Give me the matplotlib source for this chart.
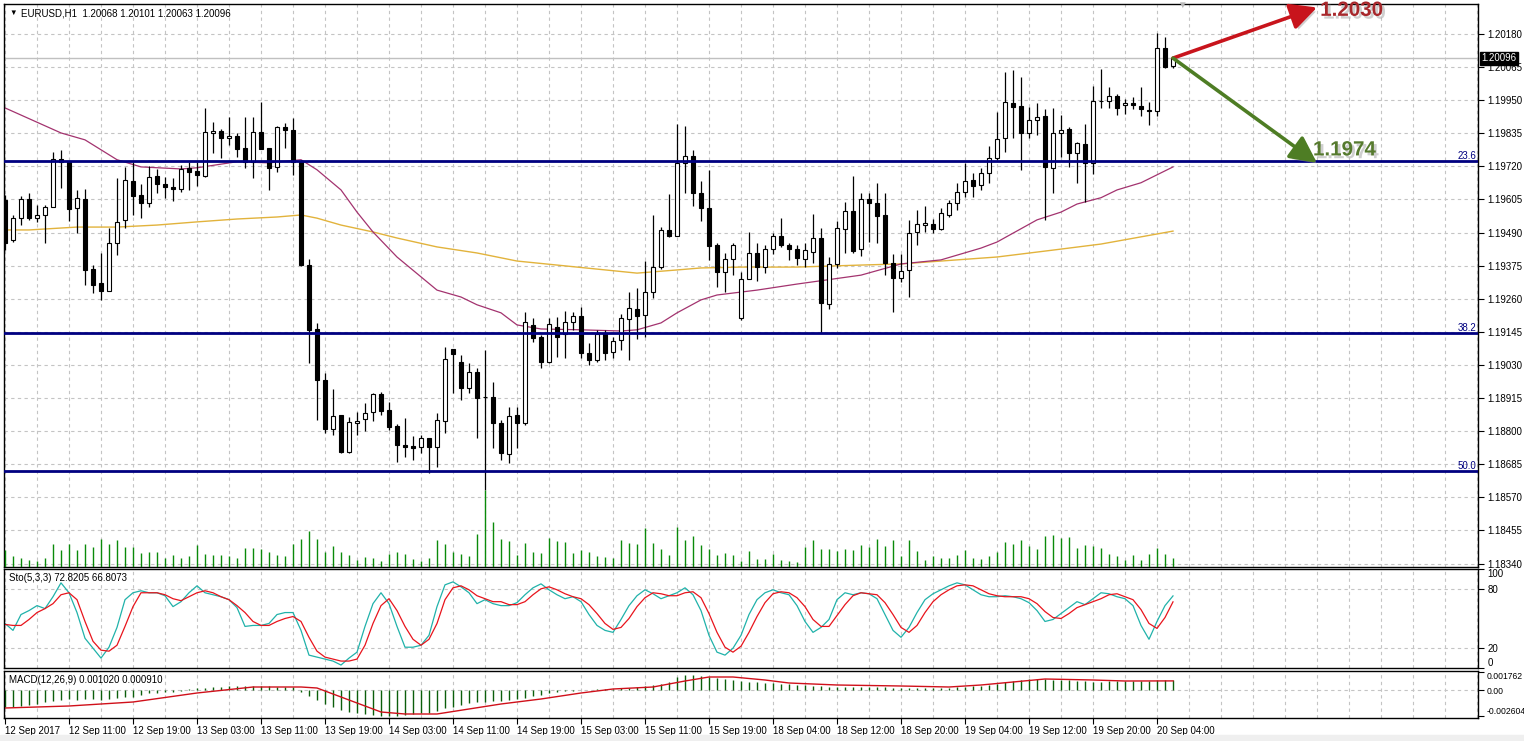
""" EURUSD H1 chart with stochastic and MACD panels """

import matplotlib
matplotlib.use('Agg')
import matplotlib.pyplot as plt
import matplotlib.patheffects as pe
import matplotlib.transforms as mtransforms
import numpy as np

plt.rcParams['font.family'] = ['Liberation Sans', 'DejaVu Sans']

opens = [1.19603, 1.19464, 1.19540, 1.19607, 1.19540, 1.19551, 1.19579, 1.19746, 1.19736, 1.19575,
         1.19607, 1.19363, 1.19315, 1.19287, 1.19454, 1.19534, 1.19670, 1.19621, 1.19593, 1.19687,
         1.19659, 1.19649, 1.19642, 1.19715, 1.19704, 1.19687, 1.19836, 1.19843, 1.19819, 1.19826,
         1.19784, 1.19736, 1.19840, 1.19784, 1.19718, 1.19857, 1.19847, 1.19736, 1.19377, 1.19155,
         1.18978, 1.18807, 1.18856, 1.18727, 1.18828, 1.18842, 1.18866, 1.18929, 1.18873, 1.18818,
         1.18752, 1.18748, 1.18745, 1.18776, 1.18745, 1.18835, 1.19086, 1.19041, 1.18950, 1.19006,
         1.18919, 1.18919, 1.18828, 1.18720, 1.18856, 1.18828, 1.19169, 1.19127, 1.19041, 1.19162,
         1.19138, 1.19180, 1.19201, 1.19072, 1.19048, 1.19138, 1.19075, 1.19117, 1.19190, 1.19225,
         1.19204, 1.19283, 1.19370, 1.19499, 1.19478, 1.19732, 1.19756, 1.19628, 1.19575, 1.19447,
         1.19353, 1.19398, 1.19193, 1.19329, 1.19419, 1.19370, 1.19433, 1.19478, 1.19447, 1.19433,
         1.19398, 1.19422, 1.19471, 1.19242, 1.19381, 1.19502, 1.19565, 1.19433, 1.19607, 1.19593,
         1.19551, 1.19384, 1.19332, 1.19360, 1.19492, 1.19516, 1.19520, 1.19502, 1.19551, 1.19593,
         1.19631, 1.19673, 1.19656, 1.19697, 1.19750, 1.19819, 1.19941, 1.19930, 1.19836, 1.19882,
         1.19895, 1.19715, 1.19836, 1.19850, 1.19767, 1.19798, 1.19732, 1.19948, 1.19948, 1.19964,
         1.19934, 1.19941, 1.19930, 1.19916, 1.19913, 1.20131, 1.20068]
highs = [1.19621, 1.19551, 1.19617, 1.19628, 1.19586, 1.19586, 1.19770, 1.19777, 1.19736, 1.19638,
         1.19642, 1.19377, 1.19419, 1.19506, 1.19680, 1.19718, 1.19736, 1.19659, 1.19722, 1.19711,
         1.19684, 1.19680, 1.19725, 1.19736, 1.19736, 1.19923, 1.19875, 1.19850, 1.19892, 1.19836,
         1.19892, 1.19892, 1.19944, 1.19784, 1.19861, 1.19871, 1.19888, 1.19743, 1.19398, 1.19176,
         1.19002, 1.18947, 1.18856, 1.18849, 1.18866, 1.18898, 1.18932, 1.18936, 1.18901, 1.18825,
         1.18845, 1.18783, 1.18786, 1.18776, 1.18863, 1.19093, 1.19086, 1.19065, 1.19037, 1.19020,
         1.19082, 1.18971, 1.18839, 1.18884, 1.18884, 1.19214, 1.19193, 1.19134, 1.19193, 1.19197,
         1.19218, 1.19214, 1.19232, 1.19107, 1.19152, 1.19152, 1.19127, 1.19207, 1.19283, 1.19297,
         1.19391, 1.19551, 1.19509, 1.19624, 1.19868, 1.19861, 1.19777, 1.19670, 1.19708, 1.19454,
         1.19419, 1.19454, 1.19353, 1.19492, 1.19454, 1.19447, 1.19488, 1.19540, 1.19454, 1.19447,
         1.19454, 1.19554, 1.19506, 1.19405, 1.19530, 1.19596, 1.19687, 1.19628, 1.19628, 1.19663,
         1.19628, 1.19415, 1.19415, 1.19534, 1.19568, 1.19582, 1.19537, 1.19575, 1.19603, 1.19663,
         1.19732, 1.19697, 1.19715, 1.19791, 1.19909, 1.20048, 1.20055, 1.20031, 1.19927, 1.19941,
         1.19920, 1.19923, 1.19899, 1.19857, 1.19805, 1.19868, 1.19999, 1.20058, 1.19996, 1.19971,
         1.19954, 1.19961, 1.19996, 1.19944, 1.20183, 1.20170, 1.20101]
lows = [1.19429, 1.19457, 1.19516, 1.19534, 1.19527, 1.19454, 1.19579, 1.19645, 1.19530, 1.19488,
        1.19308, 1.19280, 1.19256, 1.19287, 1.19412, 1.19506, 1.19551, 1.19540, 1.19579, 1.19628,
        1.19611, 1.19600, 1.19631, 1.19638, 1.19652, 1.19684, 1.19767, 1.19750, 1.19795, 1.19753,
        1.19715, 1.19680, 1.19781, 1.19638, 1.19701, 1.19784, 1.19690, 1.19373, 1.19037, 1.18839,
        1.18793, 1.18786, 1.18724, 1.18724, 1.18786, 1.18800, 1.18835, 1.18856, 1.18804, 1.18693,
        1.18710, 1.18700, 1.18724, 1.18654, 1.18675, 1.18793, 1.18932, 1.18908, 1.18932, 1.18776,
        1.18595, 1.18741, 1.18700, 1.18689, 1.18741, 1.18821, 1.19110, 1.19020, 1.19037, 1.19058,
        1.19055, 1.19152, 1.19055, 1.19030, 1.19041, 1.19048, 1.19055, 1.19082, 1.19048, 1.19120,
        1.19127, 1.19263, 1.19363, 1.19475, 1.19478, 1.19628, 1.19582, 1.19530, 1.19395, 1.19301,
        1.19283, 1.19342, 1.19187, 1.19329, 1.19322, 1.19349, 1.19415, 1.19440, 1.19395, 1.19377,
        1.19370, 1.19384, 1.19141, 1.19225, 1.19367, 1.19419, 1.19419, 1.19408, 1.19457, 1.19454,
        1.19342, 1.19214, 1.19318, 1.19266, 1.19447, 1.19492, 1.19488, 1.19499, 1.19544, 1.19568,
        1.19614, 1.19614, 1.19638, 1.19663, 1.19743, 1.19770, 1.19819, 1.19708, 1.19819, 1.19830,
        1.19534, 1.19628, 1.19753, 1.19718, 1.19663, 1.19596, 1.19694, 1.19923, 1.19923, 1.19899,
        1.19902, 1.19920, 1.19895, 1.19864, 1.19895, 1.20062, 1.20063]
closes = [1.19454, 1.19540, 1.19607, 1.19540, 1.19551, 1.19579, 1.19746, 1.19736, 1.19572, 1.19611,
          1.19360, 1.19308, 1.19287, 1.19454, 1.19527, 1.19673, 1.19617, 1.19593, 1.19684, 1.19659,
          1.19649, 1.19642, 1.19711, 1.19701, 1.19690, 1.19840, 1.19843, 1.19819, 1.19826, 1.19781,
          1.19736, 1.19840, 1.19781, 1.19715, 1.19857, 1.19847, 1.19736, 1.19377, 1.19152, 1.18978,
          1.18807, 1.18852, 1.18727, 1.18832, 1.18835, 1.18863, 1.18929, 1.18870, 1.18814, 1.18752,
          1.18745, 1.18741, 1.18776, 1.18745, 1.18839, 1.19051, 1.19068, 1.18950, 1.19006, 1.18916,
          1.18917, 1.18828, 1.18724, 1.18852, 1.18828, 1.19180, 1.19124, 1.19041, 1.19173, 1.19127,
          1.19180, 1.19201, 1.19072, 1.19048, 1.19138, 1.19072, 1.19114, 1.19193, 1.19228, 1.19201,
          1.19283, 1.19370, 1.19499, 1.19478, 1.19732, 1.19756, 1.19628, 1.19575, 1.19443, 1.19353,
          1.19398, 1.19447, 1.19329, 1.19419, 1.19370, 1.19433, 1.19478, 1.19447, 1.19433, 1.19402,
          1.19429, 1.19471, 1.19246, 1.19381, 1.19506, 1.19565, 1.19426, 1.19607, 1.19593, 1.19547,
          1.19384, 1.19332, 1.19356, 1.19488, 1.19520, 1.19523, 1.19502, 1.19558, 1.19593, 1.19631,
          1.19670, 1.19652, 1.19697, 1.19750, 1.19816, 1.19944, 1.19927, 1.19836, 1.19882, 1.19892,
          1.19718, 1.19836, 1.19847, 1.19767, 1.19802, 1.19732, 1.19948, 1.19946, 1.19964, 1.19923,
          1.19941, 1.19934, 1.19920, 1.19913, 1.20131, 1.20065, 1.20096]

volumes = [17, 11, 9, 7, 6, 9, 23, 17, 23, 17, 23, 20, 28, 23, 27, 20, 20, 14, 15, 15,
           9, 12, 9, 11, 22, 13, 12, 12, 11, 9, 19, 19, 18, 15, 12, 11, 23, 28, 36, 28,
           15, 21, 15, 12, 7, 10, 9, 6, 13, 15, 13, 8, 6, 9, 27, 23, 15, 13, 11, 33,
           77, 45, 28, 26, 12, 24, 15, 14, 29, 26, 25, 14, 17, 15, 11, 10, 9, 27, 24, 23,
           39, 24, 18, 12, 40, 27, 31, 22, 18, 12, 14, 12, 6, 16, 8, 8, 13, 7, 6, 5,
           20, 27, 18, 18, 16, 18, 17, 22, 20, 28, 21, 27, 11, 27, 16, 7, 11, 9, 9, 12,
           17, 9, 8, 11, 15, 25, 23, 27, 21, 18, 31, 32, 29, 30, 19, 22, 21, 19, 13, 11,
           7, 12, 7, 13, 19, 13, 9]

ma_fast_idx = [0, 7, 10, 14, 17, 22, 24, 29, 33, 37, 39, 42, 44, 46, 49, 52, 54, 57, 59, 62,
               64, 67, 72, 77, 79, 82, 84, 87, 89, 94, 99, 107, 112, 117, 122, 124, 129, 132,
               134, 137, 139, 142, 146]
ma_fast = [1.19923, 1.19836, 1.19812, 1.19743, 1.19718, 1.19711, 1.19715, 1.19736, 1.19732,
           1.19743, 1.19708, 1.19638, 1.19561, 1.19492, 1.19405, 1.19336, 1.19290, 1.19266,
           1.19239, 1.19211, 1.19169, 1.19155, 1.19152, 1.19148, 1.19152, 1.19176, 1.19211,
           1.19256, 1.19273, 1.19290, 1.19311, 1.19342, 1.19381, 1.19395, 1.19436, 1.19457,
           1.19534, 1.19561, 1.19589, 1.19611, 1.19638, 1.19663, 1.19718]
ma_slow_idx = [0, 3, 9, 14, 19, 24, 29, 34, 37, 39, 42, 46, 49, 54, 59, 64, 69, 74, 79, 84,
               87, 92, 99, 107, 112, 117, 124, 131, 137, 142, 146]
ma_slow = [1.19499, 1.19499, 1.19509, 1.19509, 1.19516, 1.19527, 1.19537, 1.19544, 1.19551,
           1.19540, 1.19516, 1.19492, 1.19471, 1.19440, 1.19419, 1.19391, 1.19377, 1.19363,
           1.19349, 1.19360, 1.19367, 1.19370, 1.19370, 1.19377, 1.19381, 1.19391, 1.19405,
           1.19429, 1.19450, 1.19475, 1.19495]

fib_levels = [1.19738, 1.19140, 1.18662]
fib_names = ['23.6', '38.2', '50.0']
last_price = 1.20096

price_ticks = [1.20180, 1.20065, 1.19950, 1.19835, 1.19720, 1.19605, 1.19490, 1.19375,
               1.19260, 1.19145, 1.19030, 1.18915, 1.18800, 1.18685, 1.18570, 1.18455, 1.18340]

sto_k = [45, 38, 54, 58, 63, 60, 72, 86, 76, 56, 30, 20, 10, 21, 41, 69, 76, 78, 76, 76,
         73, 62, 67, 76, 83, 76, 74, 72, 69, 61, 42, 43, 43, 45, 54, 56, 56, 38, 13, 11,
         9, 7, 3, 10, 16, 42, 65, 76, 65, 42, 21, 21, 23, 33, 62, 84, 87, 82, 76, 65,
         69, 65, 63, 63, 66, 74, 81, 85, 79, 74, 70, 72, 67, 54, 43, 38, 36, 49, 63, 73,
         79, 75, 70, 73, 76, 81, 74, 58, 33, 16, 13, 20, 33, 54, 69, 76, 79, 76, 74, 63,
         47, 36, 41, 49, 69, 76, 74, 76, 75, 70, 54, 38, 31, 41, 56, 69, 75, 79, 83, 86,
         84, 79, 74, 72, 72, 73, 72, 70, 66, 58, 47, 49, 55, 61, 67, 64, 70, 76, 75, 72,
         70, 63, 43, 29, 47, 63, 72.82]
sto_d = [44, 43, 43, 49, 56, 60, 65, 74, 76, 69, 47, 27, 18, 17, 23, 42, 62, 76, 76, 76,
         74, 70, 68, 72, 76, 78, 76, 72, 69, 63, 56, 47, 43, 43, 47, 50, 52, 47, 31, 17,
         11, 9, 7, 7, 9, 23, 45, 63, 70, 58, 42, 29, 23, 29, 45, 69, 81, 83, 79, 73,
         70, 67, 67, 64, 64, 67, 74, 80, 82, 79, 75, 72, 70, 64, 55, 45, 39, 41, 50, 62,
         71, 76, 75, 73, 73, 76, 77, 71, 55, 36, 21, 16, 22, 36, 52, 66, 75, 77, 76, 71,
         62, 49, 42, 42, 53, 64, 73, 76, 75, 74, 66, 54, 41, 36, 43, 56, 67, 74, 79, 83,
         84, 83, 79, 75, 73, 72, 72, 72, 70, 65, 57, 51, 50, 55, 61, 64, 67, 70, 74, 75,
         72, 69, 59, 45, 40, 51, 66.81]
sto_levels = [20, 80]

macd_main = [-0.00167, -0.00167, -0.0016, -0.0015, -0.0014, -0.0012, -0.0011, -0.0010, -0.0009, -0.0010,
             -0.0009, -0.0009, -0.0010, -0.0009, -0.0008, -0.0007, -0.0007, -0.0005, -0.0003, -0.0003,
             -0.0002, -0.0002, -0.0001, 0.0001, 0.0002, 0.0002, 0.0003, 0.0003, 0.0004, 0.0004,
             0.0004, 0.0004, 0.0004, 0.0004, 0.0003, 0.0003, 0.0003, -0.0002, -0.0006, -0.0010,
             -0.0014, -0.0017, -0.0020, -0.0022, -0.0023, -0.0024, -0.0025, -0.0026, -0.0026, -0.0026,
             -0.0025, -0.0024, -0.0023, -0.0023, -0.0021, -0.0018, -0.0017, -0.0015, -0.0013, -0.0012,
             -0.0012, -0.0011, -0.0011, -0.0010, -0.0009, -0.0008, -0.0006, -0.0005, -0.0003, -0.0002,
             -0.0001, -0.0001, 0.0, 0.00005, 0.0001, 0.0001, 0.00015, 0.0002, 0.00025, 0.0003,
             0.0004, 0.0005, 0.0006, 0.0008, 0.0013, 0.0015, 0.0015, 0.0014, 0.0013, 0.0012,
             0.0011, 0.0010, 0.0009, 0.0008, 0.0008, 0.0007, 0.0007, 0.0006, 0.0006, 0.0005,
             0.0005, 0.0004, 0.0004, 0.0003, 0.0003, 0.0003, 0.0003, 0.0003, 0.0003, 0.0003,
             0.0003, 0.0002, 0.0002, 0.0002, 0.0002, 0.0002, 0.0002, 0.0002, 0.0002, 0.0003,
             0.0003, 0.0004, 0.0004, 0.0005, 0.0006, 0.0008, 0.0009, 0.0010, 0.0011, 0.0011,
             0.0011, 0.0010, 0.0010, 0.0010, 0.0009, 0.0009, 0.0008, 0.0008, 0.0009, 0.0009,
             0.0009, 0.0009, 0.0009, 0.0009, 0.0010, 0.0010, 0.00102]
macd_signal_idx = [0, 8, 16, 24, 31, 37, 39, 43, 47, 50, 54, 58, 62, 67, 72, 76, 81, 85, 88,
                   91, 95, 98, 104, 112, 118, 122, 126, 130, 136, 140, 146]
macd_signal = [-0.0018, -0.0016, -0.0012, -0.0003, 0.0003, 0.0003, 0.0002, -0.0010, -0.0022,
               -0.0024, -0.0024, -0.0019, -0.0014, -0.0009, -0.0003, 0.0001, 0.0003, 0.0009,
               0.0013, 0.0013, 0.0010, 0.0007, 0.0005, 0.0004, 0.0003, 0.0005, 0.0008, 0.0011,
               0.0010, 0.0009, 0.00091]

time_labels = ['12 Sep 2017', '12 Sep 11:00', '12 Sep 19:00', '13 Sep 03:00', '13 Sep 11:00',
               '13 Sep 19:00', '14 Sep 03:00', '14 Sep 11:00', '14 Sep 19:00', '15 Sep 03:00',
               '15 Sep 11:00', '15 Sep 19:00', '18 Sep 04:00', '18 Sep 12:00', '18 Sep 20:00',
               '19 Sep 04:00', '19 Sep 12:00', '19 Sep 20:00', '20 Sep 04:00']
time_label_idx = [0, 8, 16, 24, 32, 40, 48, 56, 64, 72, 80, 88, 96, 104, 112, 120, 128, 136, 144]

arrow_from = (146, 1.20096)
arrow_up_to = (164, 1.20272)
arrow_down_to = (164, 1.19732)
target_up = '1.2030'
target_down = '1.1974'

W, H = 1524, 741
GRID = dict(color='#c4c4c4', linestyle=(0, (3, 3)), linewidth=0.8)


def rect(x0, y0, x1, y1):
    return [x0 / W, 1 - y1 / H, (x1 - x0) / W, (y1 - y0) / H]


def style_panel(ax):
    ax.set_xlim(-0.125, 184.125)
    for s in ax.spines.values():
        s.set_color('black')
        s.set_linewidth(1.0)
    ax.set_xticks(np.arange(0, 185, 4))
    ax.tick_params(axis='x', length=0, labelbottom=False)
    ax.grid(axis='x', **GRID)
    ax.yaxis.tick_right()
    ax.tick_params(axis='y', direction='out', length=4, width=0.8, pad=3,
                   labelsize=7, left=False, right=True)
    ax.set_axisbelow(True)


def draw_price(ax):
    idx = np.arange(len(opens))
    o, h, l, c = map(np.array, (opens, highs, lows, closes))
    ax.vlines(idx, l, h, color='black', lw=0.9, zorder=3)
    colors = np.where(c >= o, 'white', 'black')
    ax.bar(idx, np.abs(c - o), bottom=np.minimum(o, c), width=0.6,
           color=colors, edgecolor='black', linewidth=0.8, zorder=4)

    ax.plot(ma_slow_idx, ma_slow, color='#e2b33c', lw=1.0, zorder=2)
    ax.plot(ma_fast_idx, ma_fast, color='#a3336f', lw=0.9, zorder=2)

    ax.axhline(last_price, color='#c0c0c0', lw=1.0, zorder=1)
    for lev, name in zip(fib_levels, fib_names):
        ax.axhline(lev, color='#000080', lw=2.0, zorder=5)
        ax.text(183.9, lev, name, color='#000080', fontsize=7, ha='right', va='bottom')

    ax.set_ylim(1.18328, 1.20284)
    ax.set_yticks(price_ticks)
    ax.set_yticklabels(['%.5f' % p for p in price_ticks])
    ax.grid(axis='y', **GRID)

    trans = mtransforms.blended_transform_factory(ax.transAxes, ax.transData)
    ax.text(1.0025, last_price, '%.5f' % last_price, transform=trans, color='white',
            fontsize=7, ha='left', va='center', zorder=10,
            bbox=dict(boxstyle='square,pad=0.15', fc='black', ec='black'))

    shadow = [pe.SimplePatchShadow(offset=(2, -2), shadow_rgbFace='#a0a0a0', alpha=0.5),
              pe.Normal()]
    for tip, col, txt, tcol, ty in [(arrow_up_to, '#c8141c', target_up, '#a8282c', 1.20262),
                                    (arrow_down_to, '#4e7d24', target_down, '#567a2e', 1.19777)]:
        ax.annotate('', xy=tip, xytext=arrow_from, annotation_clip=False, zorder=8,
                    arrowprops=dict(arrowstyle='-|>,head_length=0.9,head_width=0.45',
                                    color=col, lw=2.6, mutation_scale=18,
                                    shrinkA=0, shrinkB=0, path_effects=shadow))
        ax.text(tip[0] + 0.4 if txt == target_up else tip[0] - 0.5, ty, txt, color=tcol,
                fontsize=14.8, fontweight='bold', ha='left', va='center', zorder=9,
                path_effects=shadow)


def main():
    fig = plt.figure(figsize=(W / 100, H / 100), dpi=100)
    fig.patches.append(plt.Rectangle((0, 0), 1, 6 / H, transform=fig.transFigure,
                                     color='#efefef', zorder=0))

    ax = fig.add_axes(rect(4, 4, 1478, 567))
    style_panel(ax)
    draw_price(ax)

    vax = fig.add_axes(rect(4, 4, 1478, 567))
    vax.set_xlim(-0.125, 184.125)
    vax.set_ylim(0, 563)
    vax.vlines(np.arange(len(volumes)), 0, volumes, color='#0a8a0a', lw=1.0)
    vax.axis('off')

    ax_sto = fig.add_axes(rect(4, 569, 1478, 668))
    style_panel(ax_sto)
    idx = np.arange(len(sto_k))
    for lev in sto_levels:
        ax_sto.axhline(lev, **GRID)
    ax_sto.plot(idx, sto_k, color='#20b2aa', lw=0.9)
    ax_sto.plot(idx, sto_d, color='#e8141c', lw=0.9)
    ax_sto.set_ylim(0, 100)
    ax_sto.set_yticks([100, 80, 20, 0])
    ax_sto.set_yticklabels(['100', '80', '20', '0'])
    labs = ax_sto.get_yticklabels()
    labs[0].set_va('top')
    labs[3].set_va('bottom')

    ax_m = fig.add_axes(rect(4, 671, 1478, 718))
    style_panel(ax_m)
    ax_m.tick_params(axis='y', labelsize=6.2, pad=2)
    ax_m.axhline(0, **GRID)
    ax_m.vlines(np.arange(len(macd_main)), 0, macd_main, color='#0b5e0b', lw=1.0)
    ax_m.plot(macd_signal_idx, macd_signal, color='#d0101a', lw=1.0)
    ax_m.set_ylim(-0.0028, 0.0019)
    ax_m.set_yticks([0.001762, 0.0, -0.002604])
    ax_m.set_yticklabels(['0.001762', '0.00', '-0.002604'])
    labs = ax_m.get_yticklabels()
    labs[0].set_va('top')
    labs[2].set_va('bottom')
    ax_m.set_xticks(time_label_idx)
    ax_m.set_xticklabels(time_labels, ha='left')
    ax_m.set_xticks(np.arange(0, 185, 4), minor=True)
    ax_m.tick_params(axis='x', which='major', length=4, width=0.8, direction='out',
                     labelbottom=True, labelsize=7, pad=2)
    ax_m.tick_params(axis='x', which='minor', length=0)
    ax_m.grid(axis='x', which='both', **GRID)

    fig.text(9 / W, 1 - 13 / H, '\u25bc', fontsize=5.5, va='center')
    fig.text(21 / W, 1 - 13 / H, 'EURUSD,H1  1.20068 1.20101 1.20063 1.20096',
             fontsize=7, va='center')
    fig.text(9 / W, 1 - 578 / H, 'Sto(5,3,3) 72.8205 66.8073', fontsize=7, va='center')
    fig.text(9 / W, 1 - 680 / H, 'MACD(12,26,9) 0.001020 0.000910', fontsize=7, va='center')
    fig.text(1182 / W, 1 - 5 / H, '\u25bc', color='#b8b8b8', fontsize=7,
             ha='center', va='center')

    fig.savefig('out.png', dpi=100)


if __name__ == '__main__':
    main()
